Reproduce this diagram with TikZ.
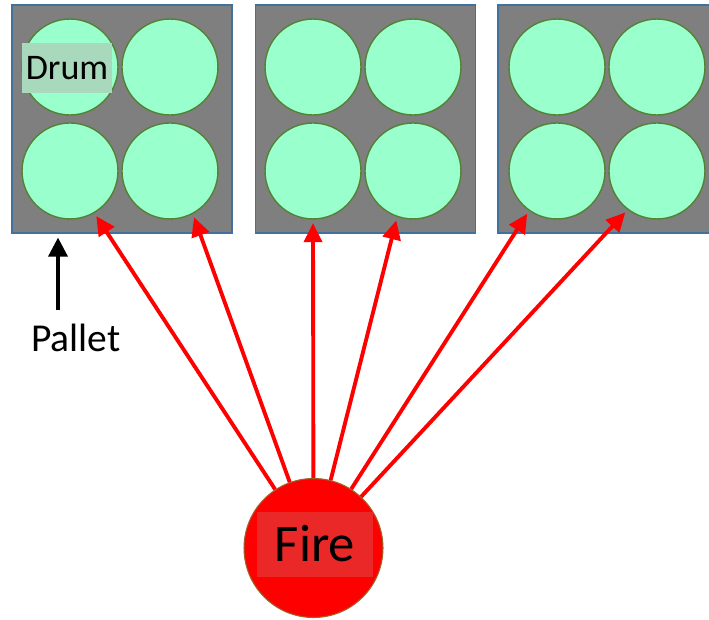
\documentclass[tikz,border=0pt]{standalone}
\usepackage{fontspec}
\setmainfont{Carlito}
\usetikzlibrary{arrows.meta, positioning}

\definecolor{palletgray}{HTML}{7F7F7F}
\definecolor{palletedge}{HTML}{41719C}
\definecolor{drumfill}{HTML}{99FFCC}
\definecolor{drumedge}{HTML}{548235}
\definecolor{labelgreen}{HTML}{A9D9BC}
\definecolor{fireedge}{HTML}{A0632A}
\definecolor{firebox}{HTML}{EA2828}

\begin{document}
\begin{tikzpicture}[x=0.02cm, y=-0.02cm, node distance=2.08cm and 2cm, on grid,
    pallet/.style={draw=palletedge, fill=palletgray, line width=0.7pt,
      minimum width=4.4cm, minimum height=4.56cm, inner sep=0pt},
    drum/.style={circle, draw=drumedge, fill=drumfill, line width=0.8pt,
      minimum size=1.92cm, inner sep=0pt},
    drumlabel/.style={fill=labelgreen, minimum width=1.8cm, minimum height=1cm,
      inner sep=0pt, font=\fontsize{20.5}{24}\selectfont},
    fire/.style={circle, draw=fireedge, fill=red, line width=0.6pt,
      minimum size=2.78cm, inner sep=0pt},
    firelabel/.style={fill=firebox, minimum width=2.32cm, minimum height=1.3cm,
      inner sep=0pt, font=\fontsize{30}{36}\selectfont},
    tag/.style={font=\fontsize{22.5}{27}\selectfont},
    heat/.style={red, line width=2.2pt, shorten >=2pt,
      -{Triangle[length=0.38cm, width=0.36cm]}},
    pointer/.style={black, line width=2pt, shorten >=0.08cm,
      -{Triangle[length=0.38cm, width=0.38cm]}}]
    \useasboundingbox (0,0) rectangle (709,619);
    \clip (0,0) rectangle (709,619);

    % pallets
    \node[pallet] (P1) at (122,119) {};
    \node[pallet] (P2) at (365.5,119) {};
    \node[pallet] (P3) at (608,119) {};

    % drums, four on each pallet
    \node[drum] (D11) at (70,67) {};
    \node[drum] (D12) [right=of D11] {};
    \node[drum] (D13) [below=of D11] {};
    \node[drum] (D14) [right=of D13] {};
    \node[drum] (D21) at (313,67) {};
    \node[drum] (D22) [right=of D21] {};
    \node[drum] (D23) [below=of D21] {};
    \node[drum] (D24) [right=of D23] {};
    \node[drum] (D31) at (557,67) {};
    \node[drum] (D32) [right=of D31] {};
    \node[drum] (D33) [below=of D31] {};
    \node[drum] (D34) [right=of D33] {};
    \node[drumlabel] (DL) at (67,68) {Drum};

    % pallet label
    \node[tag] (PL) at (76,338) {Pallet};
    \coordinate (PT) at (58,310);
    \draw[pointer] (PT) -- (PT |- P1.south);

    % fire
    \node[fire] (F) at (313.5,548) {};
    \node[firelabel] (FL) at (315,544) {Fire};

    \path[heat]
     (F) edge (D13.-60)
         edge (D14.-62)
         edge (D23.-90)
         edge (D24.-109)
         edge (D33.-125)
         edge (D34.-127)
     ;
\end{tikzpicture}
\end{document}
